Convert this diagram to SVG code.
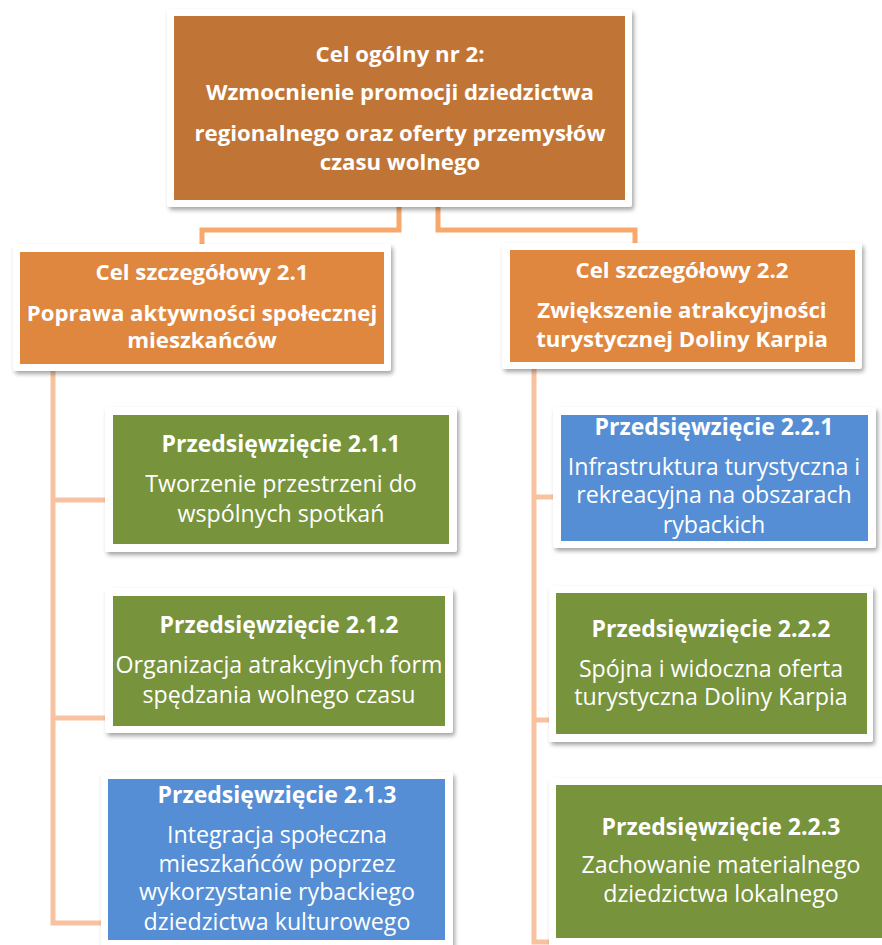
<svg xmlns="http://www.w3.org/2000/svg" width="882" height="945" viewBox="0 0 882 945">
<defs>
<filter id="sh" x="-5%" y="-5%" width="115%" height="120%">
<feDropShadow dx="2" dy="3" stdDeviation="2" flood-color="#000" flood-opacity="0.35"/>
</filter>
<style>
.frame{fill:#fff;filter:url(#sh)}
.top{fill:#C07537}
.goal{fill:#DF873F}
.green{fill:#77933C}
.blue{fill:#558ED5}
text{font-family:"Open Sans","Liberation Sans",sans-serif;fill:#fff;text-anchor:middle;font-size:23.2px}
.b{font-weight:bold;font-size:22.2px}
.bp{font-weight:bold;font-size:23px}
.c1{fill:none;stroke:#F8A76D;stroke-width:5}
.c2{fill:none;stroke:#F8C2A0;stroke-width:5}
</style>
</defs>
<rect width="882" height="945" fill="#fff"/>
<g id="connectors">
<path class="c1" d="M399,205 V230 H202 V248"/>
<path class="c1" d="M438,205 V230 H635 V246"/>
<path class="c2" d="M53,368 V923 H104"/>
<path class="c2" d="M53,500 H108"/>
<path class="c2" d="M53,718 H108"/>
<path class="c2" d="M534,366 V942 H552"/>
<path class="c2" d="M534,497 H556"/>
<path class="c2" d="M534,720 H552"/>
</g>
<g id="cel-ogolny">
<rect class="frame" x="167" y="9" width="465" height="198" rx="3"/>
<rect class="top" x="174" y="16" width="451" height="184"/>
<text class="b" x="400" y="62">Cel ogólny nr 2:</text>
<text class="b" x="400" y="100">Wzmocnienie promocji dziedzictwa</text>
<text class="b" x="400" y="141">regionalnego oraz oferty przemysłów</text>
<text class="b" x="400" y="170">czasu wolnego</text>
</g>
<g id="cel-2-1">
<rect class="frame" x="13" y="244" width="378" height="127" rx="3"/>
<rect class="goal" x="20" y="252" width="364" height="112"/>
<text class="b" x="202" y="280">Cel szczegółowy 2.1</text>
<text class="b" x="202" y="321">Poprawa aktywności społecznej</text>
<text class="b" x="202" y="348">mieszkańców</text>
</g>
<g id="cel-2-2">
<rect class="frame" x="502" y="243" width="360" height="126" rx="3"/>
<rect class="goal" x="510" y="250" width="345" height="112"/>
<text class="b" x="682" y="278">Cel szczegółowy 2.2</text>
<text class="b" x="682" y="318">Zwiększenie atrakcyjności</text>
<text class="b" x="682" y="347">turystycznej Doliny Karpia</text>
</g>
<g id="p-2-1-1">
<rect class="frame" x="105" y="407" width="352" height="145" rx="3"/>
<rect class="green" x="113" y="415" width="336" height="129"/>
<text class="bp" x="281" y="452">Przedsięwzięcie 2.1.1</text>
<text x="281" y="492">Tworzenie przestrzeni do</text>
<text x="281" y="522">wspólnych spotkań</text>
</g>
<g id="p-2-1-2">
<rect class="frame" x="105" y="588" width="348" height="145" rx="3"/>
<rect class="green" x="113" y="596" width="332" height="130"/>
<text class="bp" x="279" y="633">Przedsięwzięcie 2.1.2</text>
<text x="279" y="673">Organizacja atrakcyjnych form</text>
<text x="279" y="703">spędzania wolnego czasu</text>
</g>
<g id="p-2-1-3">
<rect class="frame" x="101" y="772" width="352" height="180" rx="3"/>
<rect class="blue" x="108" y="779" width="337" height="161"/>
<text class="bp" x="277" y="803">Przedsięwzięcie 2.1.3</text>
<text x="277" y="843">Integracja społeczna</text>
<text x="277" y="872">mieszkańców poprzez</text>
<text x="277" y="900">wykorzystanie rybackiego</text>
<text x="277" y="930">dziedzictwa kulturowego</text>
</g>
<g id="p-2-2-1">
<rect class="frame" x="553" y="407" width="323" height="141" rx="3"/>
<rect class="blue" x="561" y="415" width="307" height="126"/>
<text class="bp" x="714" y="435">Przedsięwzięcie 2.2.1</text>
<text x="714" y="475">Infrastruktura turystyczna i</text>
<text x="714" y="503">rekreacyjna na obszarach</text>
<text x="714" y="533">rybackich</text>
</g>
<g id="p-2-2-2">
<rect class="frame" x="549" y="586" width="324" height="156" rx="3"/>
<rect class="green" x="556" y="593" width="311" height="141"/>
<text class="bp" x="711" y="637">Przedsięwzięcie 2.2.2</text>
<text x="711" y="677">Spójna i widoczna oferta</text>
<text x="711" y="705">turystyczna Doliny Karpia</text>
</g>
<g id="p-2-2-3">
<rect class="frame" x="549" y="778" width="345" height="170" rx="3"/>
<rect class="green" x="556" y="785" width="332" height="153"/>
<text class="bp" x="721" y="835">Przedsięwzięcie 2.2.3</text>
<text x="721" y="873">Zachowanie materialnego</text>
<text x="721" y="902">dziedzictwa lokalnego</text>
</g>
</svg>
